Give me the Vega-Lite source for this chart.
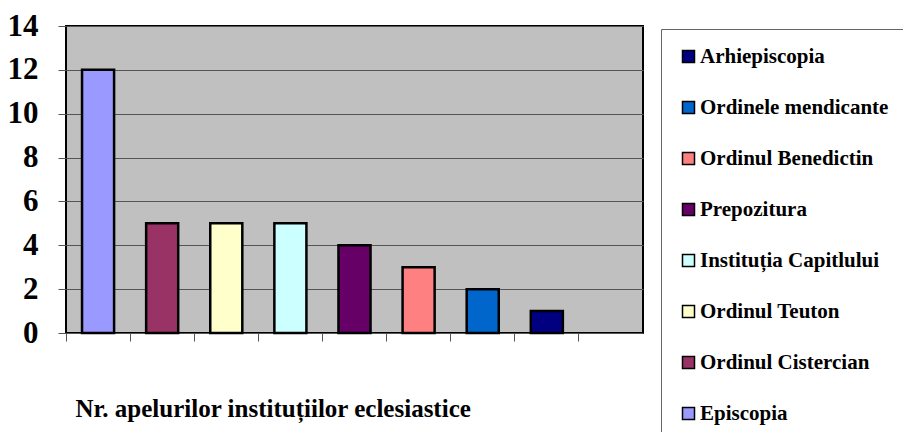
{
  "$schema": "https://vega.github.io/schema/vega-lite/v6.json",
  "autosize": {"type": "none"},
  "width": 577,
  "height": 307,
  "padding": {"left": 66, "top": 26, "right": 260, "bottom": 99},
  "background": "white",
  "config": {
    "font": "'Liberation Serif', 'Times New Roman', serif",
    "view": {"fill": "#C0C0C0", "stroke": "black", "strokeWidth": 2}
  },
  "data": {
    "values": [
      {"slot": 1, "inst": "Episcopia", "n": 12},
      {"slot": 2, "inst": "Ordinul Cistercian", "n": 5},
      {"slot": 3, "inst": "Ordinul Teuton", "n": 5},
      {"slot": 4, "inst": "Instituția Capitlului", "n": 5},
      {"slot": 5, "inst": "Prepozitura", "n": 4},
      {"slot": 6, "inst": "Ordinul Benedictin", "n": 3},
      {"slot": 7, "inst": "Ordinele mendicante", "n": 2},
      {"slot": 8, "inst": "Arhiepiscopia", "n": 1}
    ]
  },
  "mark": {"type": "bar", "width": {"band": 0.5}, "stroke": "black", "strokeWidth": 2.5},
  "encoding": {
    "x": {
      "field": "slot",
      "type": "ordinal",
      "scale": {"domain": [1, 2, 3, 4, 5, 6, 7, 8, 9], "paddingInner": 0, "paddingOuter": 0},
      "axis": {
        "labels": false,
        "bandPosition": 0,
        "ticks": true,
        "tickSize": 8,
        "tickColor": "#555",
        "domain": false,
        "title": "Nr. apelurilor instituțiilor eclesiastice",
        "titleFont": "'Liberation Serif', 'Times New Roman', serif",
        "titleFontSize": 25,
        "titleFontWeight": "bold",
        "titleColor": "black",
        "titleAnchor": "start",
        "titleAlign": "left",
        "titleBaseline": "middle",
        "titleX": 9,
        "titleY": 75
      }
    },
    "y": {
      "field": "n",
      "type": "quantitative",
      "scale": {"domain": [0, 14], "nice": false},
      "axis": {
        "values": [0, 2, 4, 6, 8, 10, 12, 14],
        "title": null,
        "grid": true,
        "gridColor": "#555",
        "gridWidth": 1,
        "gridOpacity": 1,
        "domain": false,
        "tickSize": 8,
        "tickColor": "#555",
        "labelFont": "'Liberation Serif', 'Times New Roman', serif",
        "labelFontSize": 31,
        "labelFontWeight": "bold",
        "labelColor": "black",
        "labelPadding": 20
      }
    },
    "color": {
      "field": "inst",
      "type": "nominal",
      "scale": {
        "domain": ["Arhiepiscopia", "Ordinele mendicante", "Ordinul Benedictin", "Prepozitura", "Instituția Capitlului", "Ordinul Teuton", "Ordinul Cistercian", "Episcopia"],
        "range": ["#000080", "#0066CC", "#FF8080", "#660066", "#CCFFFF", "#FFFFCC", "#993366", "#9999FF"]
      },
      "legend": {
        "title": null,
        "orient": "none",
        "legendX": 595,
        "legendY": 3,
        "padding": 17,
        "strokeColor": "#666",
        "symbolType": "square",
        "symbolSize": 144,
        "symbolStrokeColor": "black",
        "symbolStrokeWidth": 1.5,
        "symbolOpacity": 1,
        "labelFont": "'Liberation Serif', 'Times New Roman', serif",
        "labelFontSize": 21,
        "labelFontWeight": "bold",
        "labelColor": "black",
        "labelOffset": 1,
        "labelLimit": 400,
        "rowPadding": 29
      }
    }
  }
}
